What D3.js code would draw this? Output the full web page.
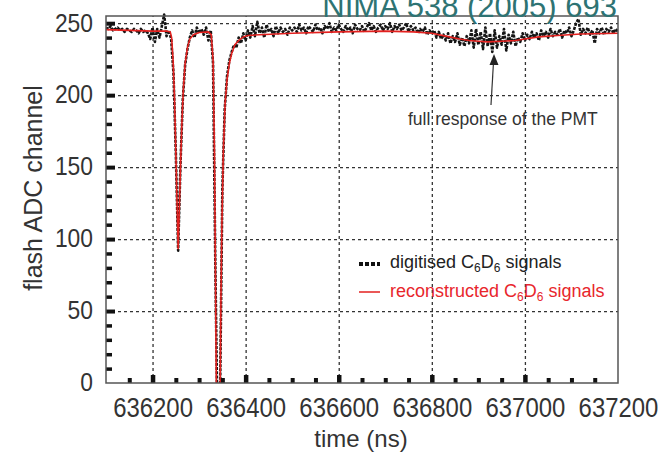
<!DOCTYPE html>
<html><head><meta charset="utf-8">
<script src="https://cdn.jsdelivr.net/npm/d3@7"></script>
<style>body{margin:0;background:#fff}svg{display:block;font-family:"Liberation Sans",Arial,sans-serif}</style>
</head><body><svg id="c" width="671" height="458"></svg>
<script>
// ---- data ----
const xDomain = [636100, 637200];
const yDomain = [0, 255];
const xTickLabels = [636200, 636400, 636600, 636800, 637000, 637200];
const yTickLabels = [0, 50, 100, 150, 200, 250];
const xGrid = [636200, 636400, 636600, 636800, 637000];
const yGrid = [50, 100, 150, 200, 250];
const xMinorTicks = d3.range(636150, 637200, 50);
const yMinorTicks = d3.range(10, 255, 10);

// digitised signal: sampled every 5 ns from 636100
const digitisedStart = 636100, digitisedStep = 5;
const digitisedADC = [
 247,246,248,245,246,247,245,246,244,246,
 245,244,246,245,243,246,244,245,243,239,
 247,237,246,240,248,256,241,245,239,215,
 160,92,152,197,221,232,240,245,240,247,
 243,246,242,247,238,245,222,80,-40,-10,
 135,190,213,224,230,235,233,240,236,243,
 238,245,240,248,241,251,243,247,240,249,
 244,246,241,248,243,247,244,246,242,247,
 245,
 247,244,249,245,247,243,248,246,244,249,
 245,247,243,248,246,250,244,247,245,249,
 246,244,248,245,247,243,249,246,245,248,
 244,247,250,245,248,244,247,249,245,248,
 246,250,244,248,246,249,245,247,250,244,
 248,245,247,243,246,244,247,242,245,243,
 245,240,244,239,242,238,243,236,241,237,
 243,235,240,234,241,236,245,233,246,235,
 244,232,247,234,243,230,245,233,241,235,
 246,231,242,236,244,234,240,237,243,238,
 242,239,244,240,243,238,245,241,244,240,
 246,241,244,242,246,240,245,243,247,241,
 245,250,253,242,246,243,247,242,245,236,
 246,243,247,242,246,244,247,243,246,244
];

// reconstructed signal
const reconTime = [
 636100,636150,636200,636230,636238,636241,636244,636247,636250,636253,
 636255,636257,636260,636263,636266,636270,636275,636280,636288,636300,
 636320,636326,636330,636333,636335,636337,636339,636342,636345,636347,
 636349,636352,636356,636360,636365,636370,636377,636385,636395,636405,
 636430,636500,636600,636700,636760,636800,636830,636860,636880,636900,
 636920,636950,636980,637000,637030,637070,637120,637200
];
const reconADC = [
 245.5,245,244.5,244.5,244,240,225,200,160,120,
 93,115,150,180,203,222,233,239,242,243.5,
 244,242,225,160,80,0,-40,-50,-10,60,
 110,160,195,211,222,229,235,238,240.5,241.5,
 242,243,244,244.5,244,243,241,239,238,237.5,
 237,237.5,238,239,240.5,241.5,242.5,243
];

// ---- chart ----
const svg = d3.select("#c");
const M = {l:106, r:618, t:16, b:383};
const x = d3.scaleLinear().domain(xDomain).range([M.l, M.r]);
const y = d3.scaleLinear().domain(yDomain).range([M.b, M.t]);

// grid
svg.append("g").attr("transform", `translate(0,${M.b})`)
  .call(d3.axisBottom(x).tickValues(xGrid).tickSize(-(M.b - M.t)).tickFormat(""))
  .call(g => g.select(".domain").remove())
  .selectAll("line").attr("stroke", "#333").attr("stroke-width", 1.3).attr("stroke-dasharray", "3,3");
svg.append("g").attr("transform", `translate(${M.l},0)`)
  .call(d3.axisLeft(y).tickValues(yGrid).tickSize(-(M.r - M.l)).tickFormat(""))
  .call(g => g.select(".domain").remove())
  .selectAll("line").attr("stroke", "#333").attr("stroke-width", 1.3).attr("stroke-dasharray", "3,3");

// clip
svg.append("clipPath").attr("id", "clip").append("rect")
  .attr("x", M.l).attr("y", M.t - 8).attr("width", M.r - M.l).attr("height", M.b - M.t + 8);

const digitised = digitisedADC.map((v, i) => ({t: digitisedStart + i * digitisedStep, v}));
const recon = reconTime.map((t, i) => ({t, v: reconADC[i]}));
const line = d3.line().x(d => x(d.t)).y(d => y(d.v));

const plot = svg.append("g").attr("clip-path", "url(#clip)");
plot.append("path").datum(digitised).attr("d", line)
  .attr("fill", "none").attr("stroke", "#151515").attr("stroke-width", 2.6)
  .attr("stroke-dasharray", "3,1.2").attr("stroke-linejoin", "round");
plot.append("path").datum(recon).attr("d", line)
  .attr("fill", "none").attr("stroke", "#e3211f").attr("stroke-width", 1.6);

// inward ticks
function ticks(axis, vals, size, width, tr) {
  svg.append("g").attr("transform", tr)
    .call(axis.tickValues(vals).tickSize(-size).tickFormat(""))
    .call(g => g.select(".domain").remove())
    .selectAll("line").attr("stroke", "#111").attr("stroke-width", width);
}
ticks(d3.axisBottom(x), xMinorTicks.filter(v => v % 200 !== 0), 5, 4, `translate(0,${M.b})`);
ticks(d3.axisBottom(x), xGrid, 8, 4.5, `translate(0,${M.b})`);
ticks(d3.axisLeft(y), yMinorTicks.filter(v => v % 50 !== 0), 6, 3.5, `translate(${M.l},0)`);
ticks(d3.axisLeft(y), yGrid, 9, 4, `translate(${M.l},0)`);

// tick labels
const xl = svg.append("g").attr("transform", `translate(0,${M.b})`)
  .call(d3.axisBottom(x).tickValues(xTickLabels).tickSize(0).tickPadding(15).tickFormat(d3.format("d")));
xl.select(".domain").remove();
xl.selectAll("text").attr("font-size", 27).attr("fill", "#333").attr("font-family", "Liberation Sans, Arial, sans-serif")
  .attr("textLength", d => String(d).length * 13.3).attr("lengthAdjust", "spacingAndGlyphs");

const yl = svg.append("g").attr("transform", `translate(${M.l},0)`)
  .call(d3.axisLeft(y).tickValues(yTickLabels).tickSize(0).tickPadding(13).tickFormat(d3.format("d")));
yl.select(".domain").remove();
yl.selectAll("text").attr("font-size", 26).attr("fill", "#333").attr("font-family", "Liberation Sans, Arial, sans-serif")
  .attr("dy", "0.3em")
  .attr("textLength", d => String(d).length * 12.7).attr("lengthAdjust", "spacingAndGlyphs");

// frame
svg.append("rect").attr("x", M.l).attr("y", M.t).attr("width", M.r - M.l).attr("height", M.b - M.t)
  .attr("fill", "none").attr("stroke", "#555").attr("stroke-width", 1.5);

// axis titles
svg.append("text").attr("transform", "translate(42,188) rotate(-90)").attr("text-anchor", "middle")
  .attr("font-size", 25).attr("fill", "#333").text("flash ADC channel");
svg.append("text").attr("x", 361).attr("y", 447).attr("text-anchor", "middle")
  .attr("font-size", 24).attr("fill", "#333").text("time (ns)");

// title (partly above the top edge, as in the reference)
svg.append("text").attr("x", 617).attr("y", 17).attr("text-anchor", "end")
  .attr("font-size", 31).attr("fill", "#2e7373").text("NIMA 538 (2005) 693");

// annotation
svg.append("text").attr("x", 408).attr("y", 125).attr("font-size", 17.5).attr("fill", "#333")
  .text("full response of the PMT");
svg.append("line").attr("x1", 491).attr("y1", 105).attr("x2", 493.5).attr("y2", 62)
  .attr("stroke", "#333").attr("stroke-width", 1.2);
svg.append("path").attr("d", "M494,54 L489.5,65 L498.5,65 Z").attr("fill", "#222");

// legend
const lg = svg.append("g");
lg.append("line").attr("x1", 359).attr("x2", 380).attr("y1", 264).attr("y2", 264)
  .attr("stroke", "#111").attr("stroke-width", 4).attr("stroke-dasharray", "4,2");
lg.append("line").attr("x1", 359).attr("x2", 380).attr("y1", 292).attr("y2", 292)
  .attr("stroke", "#e3211f").attr("stroke-width", 1.5);
function legendText(yy, pre, color) {
  const t = lg.append("text").attr("x", 390).attr("y", yy).attr("font-size", 18).attr("fill", color);
  t.append("tspan").text(pre + "C");
  t.append("tspan").attr("font-size", 12).attr("dy", 4).text("6");
  t.append("tspan").attr("dy", -4).text("D");
  t.append("tspan").attr("font-size", 12).attr("dy", 4).text("6");
  t.append("tspan").attr("dy", -4).text(" signals");
}
legendText(268, "digitised ", "#222");
legendText(297, "reconstructed ", "#e8262c");
</script></body></html>
